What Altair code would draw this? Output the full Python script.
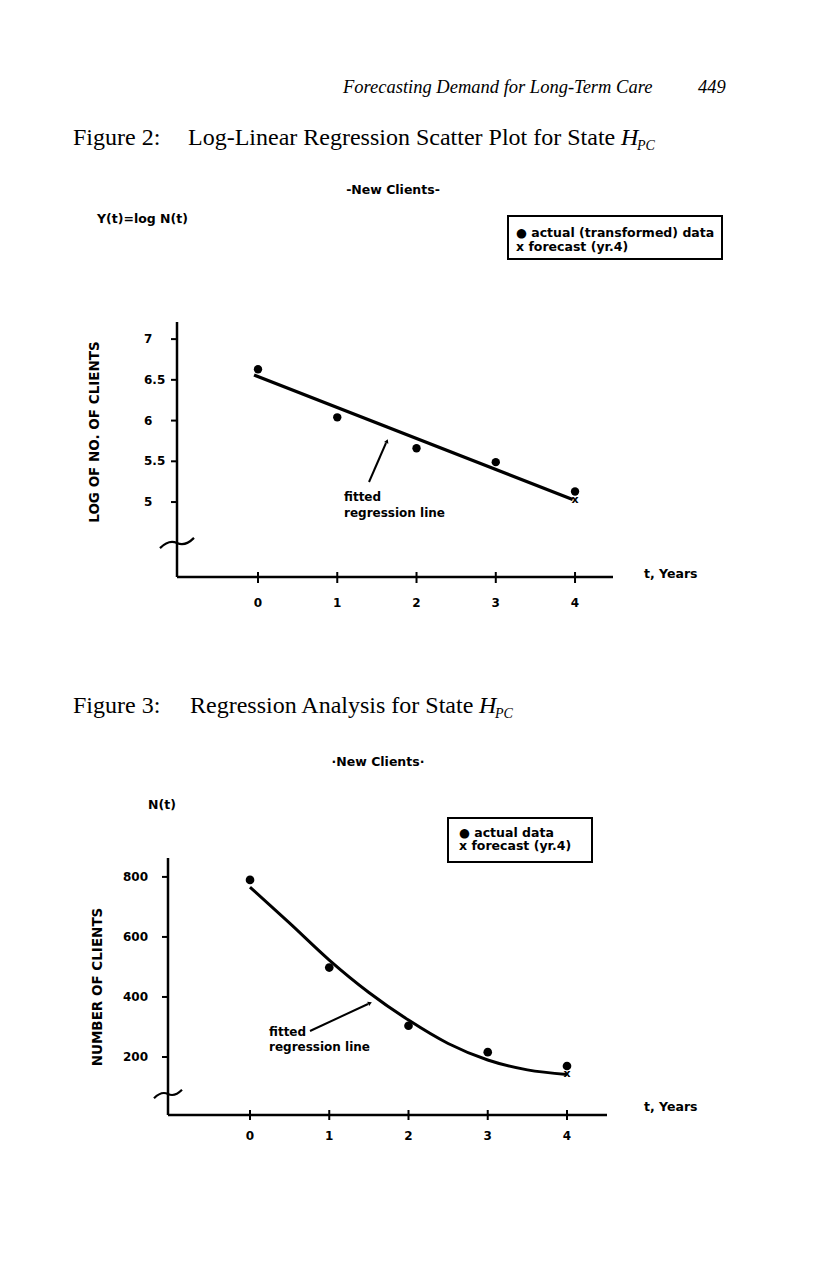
import altair as alt
import pandas as pd

# ---------------- data ----------------
years = [0, 1, 2, 3, 4]
year_labels = ["0", "1", "2", "3", "4"]

# Figure 2: log-linear
log_clients = [6.63, 6.04, 5.66, 5.49, 5.13]
log_forecast_t = [4]
log_forecast = [5.02]
log_fit_t = [-0.05, 3.97]
log_fit_y = [6.56, 5.03]
log_ticks = [5, 5.5, 6, 6.5, 7]
log_tick_labels = ["5", "5.5", "6", "6.5", "7"]

# Figure 3: regression on original scale
clients = [790, 498, 304, 216, 170]
clients_forecast_t = [4]
clients_forecast = [143]
fit_t = [0, 0.5, 1, 1.5, 2, 2.5, 3, 3.5, 4]
fit_n = [766, 646, 523, 415, 323, 245, 190, 157, 142]
n_ticks = [200, 400, 600, 800]
n_tick_labels = ["200", "400", "600", "800"]

# ---------------- scales (domain = drawn axis extent) ----------------
OFF = 8  # page margin
T2 = [-1.022, 4.479]
Y2 = [4.08, 7.21]
T3 = [-1.035, 4.505]
Y3 = [6.7, 863]
sx2 = alt.Scale(domain=T2, range=[177 - OFF, 613 - OFF], nice=False, zero=False)
sy2 = alt.Scale(domain=Y2, range=[577 - OFF, 322 - OFF], nice=False, zero=False)
sx3 = alt.Scale(domain=T3, range=[168 - OFF, 607 - OFF], nice=False, zero=False)
sy3 = alt.Scale(domain=Y3, range=[1115 - OFF, 858 - OFF], nice=False, zero=False)

SANS = "DejaVu Sans"
SERIF = "Liberation Serif"
ONE = pd.DataFrame({"k": [0]})


def txt(s, x, y, size=12, font=SANS, weight="bold", style="normal",
        align="left", baseline="middle", angle=0):
    return alt.Chart(ONE).mark_text(
        text=s, fontSize=size, font=font, fontWeight=weight, fontStyle=style,
        align=align, baseline=baseline, angle=angle, color="black",
    ).encode(x=alt.value(x - OFF), y=alt.value(y - OFF))


def seg(x1, y1, x2, y2, w=2.0):
    return alt.Chart(ONE).mark_rule(color="black", strokeWidth=w).encode(
        x=alt.value(x1 - OFF), y=alt.value(y1 - OFF),
        x2=alt.value(x2 - OFF), y2=alt.value(y2 - OFF))


def box(x1, y1, x2, y2):
    return alt.Chart(ONE).mark_rect(fillOpacity=0, stroke="black", strokeWidth=2).encode(
        x=alt.value(x1 - OFF), y=alt.value(y1 - OFF),
        x2=alt.value(x2 - OFF), y2=alt.value(y2 - OFF))


BREAK = "M -1 0.3 C -0.6 -0.1 -0.3 -0.15 0 0 C 0.3 0.15 0.6 0.1 1 -0.3"


def brk(x, y, w):
    return alt.Chart(ONE).mark_point(shape=BREAK, size=w * w, filled=False,
                                     strokeWidth=2.2, color="black", opacity=1).encode(
        x=alt.value(x - OFF), y=alt.value(y - OFF))


def head(x, y, ang, size=18):
    return alt.Chart(ONE).mark_point(shape="triangle-up", angle=ang, size=size, filled=True,
                                     color="black", opacity=1).encode(
        x=alt.value(x - OFF), y=alt.value(y - OFF))


def axes(sx, sy, T, Y):
    d = pd.DataFrame({"x": [T[0], T[0]], "x2": [T[0], T[1]],
                      "y": [Y[0], Y[0]], "y2": [Y[1], Y[0]]})
    return alt.Chart(d).mark_rule(color="black", strokeWidth=2.5).encode(
        x=alt.X("x:Q", scale=sx, axis=None), x2="x2:Q",
        y=alt.Y("y:Q", scale=sy, axis=None), y2="y2:Q")


layers = []

# ---------------- page header ----------------
layers += [
    txt("Forecasting Demand for Long-Term Care", 343, 93, size=18.5, font=SERIF,
        weight="normal", style="italic", baseline="alphabetic"),
    txt("449", 698, 93, size=18.5, font=SERIF, weight="normal", style="italic",
        baseline="alphabetic"),
]

# ---------------- Figure 2 ----------------
layers += [
    txt("Figure 2:", 73, 145, size=24, font=SERIF, weight="normal", baseline="alphabetic"),
    txt("Log-Linear Regression Scatter Plot for State", 188, 145, size=24, font=SERIF,
        weight="normal", baseline="alphabetic"),
    txt("H", 621, 145, size=24, font=SERIF, weight="normal", style="italic",
        baseline="alphabetic"),
    txt("PC", 637, 150, size=14, font=SERIF, weight="normal", style="italic",
        baseline="alphabetic"),
    txt("-New Clients-", 393, 190, size=12.5, align="center"),
    txt("Y(t)=log N(t)", 97, 219, size=12.5),
    box(508, 216, 722, 259),
    txt("\u25cf actual (transformed) data", 516, 233, size=12.5),
    txt("x forecast (yr.4)", 516, 247, size=12.5),
    txt("LOG OF NO. OF CLIENTS", 95, 432, size=13.5, align="center", angle=270),
    txt("t, Years", 644, 574, size=12.5),
]

df2 = pd.DataFrame({"t": years, "y": log_clients})
fc2 = pd.DataFrame({"t": log_forecast_t, "y": log_forecast})
fit2 = pd.DataFrame({"t": log_fit_t, "y": log_fit_y})
yt2 = pd.DataFrame({"v": log_ticks, "lab": log_tick_labels})
xt2 = pd.DataFrame({"t": years, "lab": year_labels})

X2 = alt.X("t:Q", scale=sx2, axis=None)
layers += [
    axes(sx2, sy2, T2, Y2),
    alt.Chart(yt2).mark_rule(color="black", strokeWidth=2).encode(
        y=alt.Y("v:Q", scale=sy2, axis=None),
        x=alt.value(171 - OFF), x2=alt.value(177 - OFF)),
    alt.Chart(yt2).mark_text(align="left", baseline="middle", font=SANS, fontWeight="bold",
                             fontSize=12, color="black", x=144 - OFF).encode(
        y=alt.Y("v:Q", scale=sy2, axis=None), text="lab:N"),
    alt.Chart(xt2).mark_rule(color="black", strokeWidth=2).encode(
        x=X2, y=alt.value(572 - OFF), y2=alt.value(583 - OFF)),
    alt.Chart(xt2).mark_text(align="center", baseline="middle", font=SANS, fontWeight="bold",
                             fontSize=12, color="black", y=603 - OFF).encode(
        x=X2, text="lab:N"),
    brk(177, 543, 34),
    alt.Chart(fit2).mark_line(color="black", strokeWidth=3.2).encode(
        x=X2, y=alt.Y("y:Q", scale=sy2, axis=None)),
    alt.Chart(df2).mark_point(filled=True, size=70, color="black", opacity=1).encode(
        x=X2, y=alt.Y("y:Q", scale=sy2, axis=None)),
    alt.Chart(fc2).mark_text(text="x", font=SANS, fontWeight="bold", fontSize=11,
                             color="black", baseline="middle").encode(
        x=X2, y=alt.Y("y:Q", scale=sy2, axis=None)),
    seg(369, 482, 386, 443, 2),
    head(387, 441, 23, 22),
    txt("fitted", 344, 497, size=12),
    txt("regression line", 344, 513, size=12),
]

# ---------------- Figure 3 ----------------
layers += [
    txt("Figure 3:", 73, 713, size=24, font=SERIF, weight="normal", baseline="alphabetic"),
    txt("Regression Analysis for State", 190, 713, size=24, font=SERIF,
        weight="normal", baseline="alphabetic"),
    txt("H", 479, 713, size=24, font=SERIF, weight="normal", style="italic",
        baseline="alphabetic"),
    txt("PC", 495, 718, size=14, font=SERIF, weight="normal", style="italic",
        baseline="alphabetic"),
    txt("\u00b7New Clients\u00b7", 378, 762, size=12.5, align="center"),
    txt("N(t)", 148, 805, size=12.5),
    box(448, 818, 592, 862),
    txt("\u25cf actual data", 459, 833, size=12.5),
    txt("x forecast (yr.4)", 459, 846, size=12.5),
    txt("NUMBER OF CLIENTS", 98, 987, size=13.5, align="center", angle=270),
    txt("t, Years", 644, 1107, size=12.5),
]

df3 = pd.DataFrame({"t": years, "n": clients})
fc3 = pd.DataFrame({"t": clients_forecast_t, "n": clients_forecast})
fit3 = pd.DataFrame({"t": fit_t, "n": fit_n})
yt3 = pd.DataFrame({"v": n_ticks, "lab": n_tick_labels})
xt3 = pd.DataFrame({"t": years, "lab": year_labels})

X3 = alt.X("t:Q", scale=sx3, axis=None)
layers += [
    axes(sx3, sy3, T3, Y3),
    alt.Chart(yt3).mark_rule(color="black", strokeWidth=2).encode(
        y=alt.Y("v:Q", scale=sy3, axis=None),
        x=alt.value(162 - OFF), x2=alt.value(168 - OFF)),
    alt.Chart(yt3).mark_text(align="left", baseline="middle", font=SANS, fontWeight="bold",
                             fontSize=12, color="black", x=123 - OFF).encode(
        y=alt.Y("v:Q", scale=sy3, axis=None), text="lab:N"),
    alt.Chart(xt3).mark_rule(color="black", strokeWidth=2).encode(
        x=X3, y=alt.value(1110 - OFF), y2=alt.value(1120 - OFF)),
    alt.Chart(xt3).mark_text(align="center", baseline="middle", font=SANS, fontWeight="bold",
                             fontSize=12, color="black", y=1136 - OFF).encode(
        x=X3, text="lab:N"),
    brk(168, 1094, 28),
    alt.Chart(fit3).mark_line(color="black", strokeWidth=3, interpolate="monotone").encode(
        x=X3, y=alt.Y("n:Q", scale=sy3, axis=None)),
    alt.Chart(df3).mark_point(filled=True, size=75, color="black", opacity=1).encode(
        x=X3, y=alt.Y("n:Q", scale=sy3, axis=None)),
    alt.Chart(fc3).mark_text(text="x", font=SANS, fontWeight="bold", fontSize=11,
                             color="black", baseline="middle").encode(
        x=X3, y=alt.Y("n:Q", scale=sy3, axis=None)),
    seg(310, 1031, 368, 1004, 2),
    head(370, 1003, 65, 22),
    txt("fitted", 269, 1032, size=12),
    txt("regression line", 269, 1047, size=12),
]

chart = alt.layer(*layers).resolve_scale(
    x="independent", y="independent"
).properties(
    width=800, height=1250, padding=0, background="white"
).configure_view(stroke=None)

chart.save("out.html", embed_options={"renderer": "svg", "actions": False})
